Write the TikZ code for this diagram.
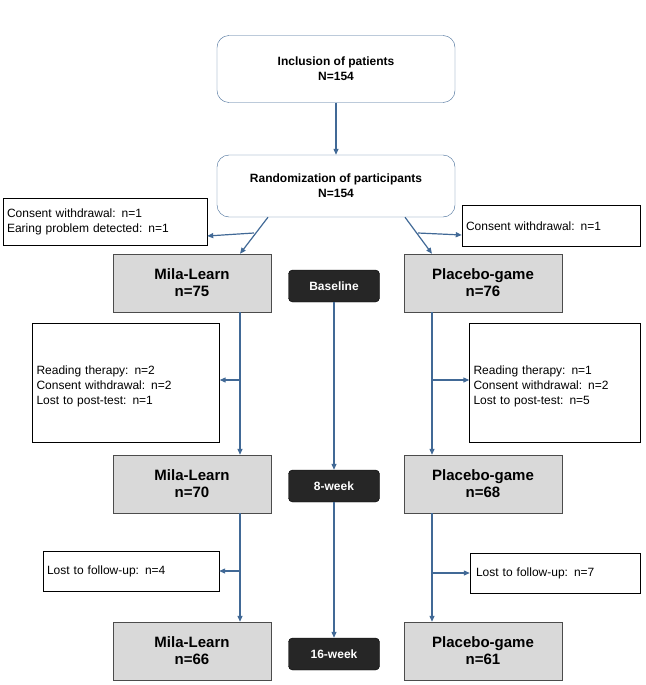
\documentclass[tikz,border=0pt]{standalone}
\usepackage{fontspec}
\setmainfont{Liberation Sans}
\usetikzlibrary{arrows.meta, positioning}
\definecolor{flowblue}{RGB}{65,105,150}
\definecolor{boxgray}{RGB}{217,217,217}
\begin{document}
\begin{tikzpicture}[
    x=1pt, y=-1pt,
    start/.style={draw=flowblue, rounded corners=12pt, fill=white, minimum width=238pt, align=center, font=\bfseries\fontsize{12}{15}\selectfont},
    arm/.style={draw=black!70, fill=boxgray, minimum width=158pt, minimum height=58pt, align=center, font=\bfseries\fontsize{15}{17}\selectfont},
    stage/.style={draw=black, fill=black!85, rounded corners=4pt, text=white, minimum width=91pt, minimum height=32pt, font=\bfseries\fontsize{12}{14}\selectfont},
    drop/.style={draw=black, fill=white, align=left, inner sep=4pt, font=\fontsize{12}{15}\selectfont},
    flow/.style={draw=flowblue, line width=1.2pt, -{Triangle[length=6pt,width=5pt]}}
]
    \useasboundingbox (0,0) rectangle (645,685);
    % Top boxes
    \node[start, minimum height=67pt] (incl) at (336,69) {Inclusion of patients\\N=154};
    \node[start, minimum height=62pt] (rand) at (336,186) {Randomization of participants\\N=154};
    % Arms
    \node[arm] (mila1) at (192,283) {Mila-Learn\\n=75};
    \node[arm] (plac1) at (483,283) {Placebo-game\\n=76};
    \node[arm] (mila2) at (192,484) {Mila-Learn\\n=70};
    \node[arm] (plac2) at (483,484) {Placebo-game\\n=68};
    \node[arm] (mila3) at (192,651) {Mila-Learn\\n=66};
    \node[arm] (plac3) at (483,651) {Placebo-game\\n=61};
    % Stages
    \node[stage] (base) at (334,286) {Baseline};
    \node[stage] (wk8) at (334,486) {8-week};
    \node[stage] (wk16) at (334,654) {16-week};
    % Dropout boxes
    \node[drop, text width=196pt, minimum height=47pt] (dl1) at (105,222) {Consent withdrawal: n=1\\Earing problem detected: n=1};
    \node[drop, text width=170pt, minimum height=41pt] (dr1) at (551,226) {Consent withdrawal: n=1};
    \node[drop, text width=179pt, minimum height=119pt] (dl2) at (126,383) {\\[1pt]Reading therapy: n=2\\Consent withdrawal: n=2\\Lost to post-test: n=1};
    \node[drop, text width=163pt, minimum height=119pt] (dr2) at (555,383) {\\[1pt]Reading therapy: n=1\\Consent withdrawal: n=2\\Lost to post-test: n=5};
    \node[drop, text width=168pt, minimum height=40pt] (dl3) at (131,571) {Lost to follow-up: n=4};
    \node[drop, text width=162pt, minimum height=40pt] (dr3) at (555,573) {\,Lost to follow-up: n=7};
    % Connectors
    \draw[flow] (incl) -- (rand);
    \draw[flow] (rand.south -| 268,0) -- (mila1.north -| 240,0);
    \draw[flow] (rand.south -| 405,0) -- (plac1.north -| 432,0);
    \draw[flow] (254,233) -- (dl1.east |- 0,236);
    \draw[flow] (418,233) -- (dr1.west |- 0,235);
    \draw[flow] (mila1.south -| 240,0) -- (mila2.north -| 240,0);
    \draw[flow] (plac1.south -| 432,0) -- (plac2.north -| 432,0);
    \draw[flow] (240,380) -- (dl2.east |- 0,380);
    \draw[flow] (432,380) -- (dr2.west |- 0,380);
    \draw[flow] (mila2.south -| 240,0) -- (mila3.north -| 240,0);
    \draw[flow] (plac2.south -| 432,0) -- (plac3.north -| 432,0);
    \draw[flow] (240,571) -- (dl3.east |- 0,571);
    \draw[flow] (432,573) -- (dr3.west |- 0,573);
    \draw[flow] (base) -- (wk8);
    \draw[flow] (wk8) -- (wk16);
\end{tikzpicture}
\end{document}
